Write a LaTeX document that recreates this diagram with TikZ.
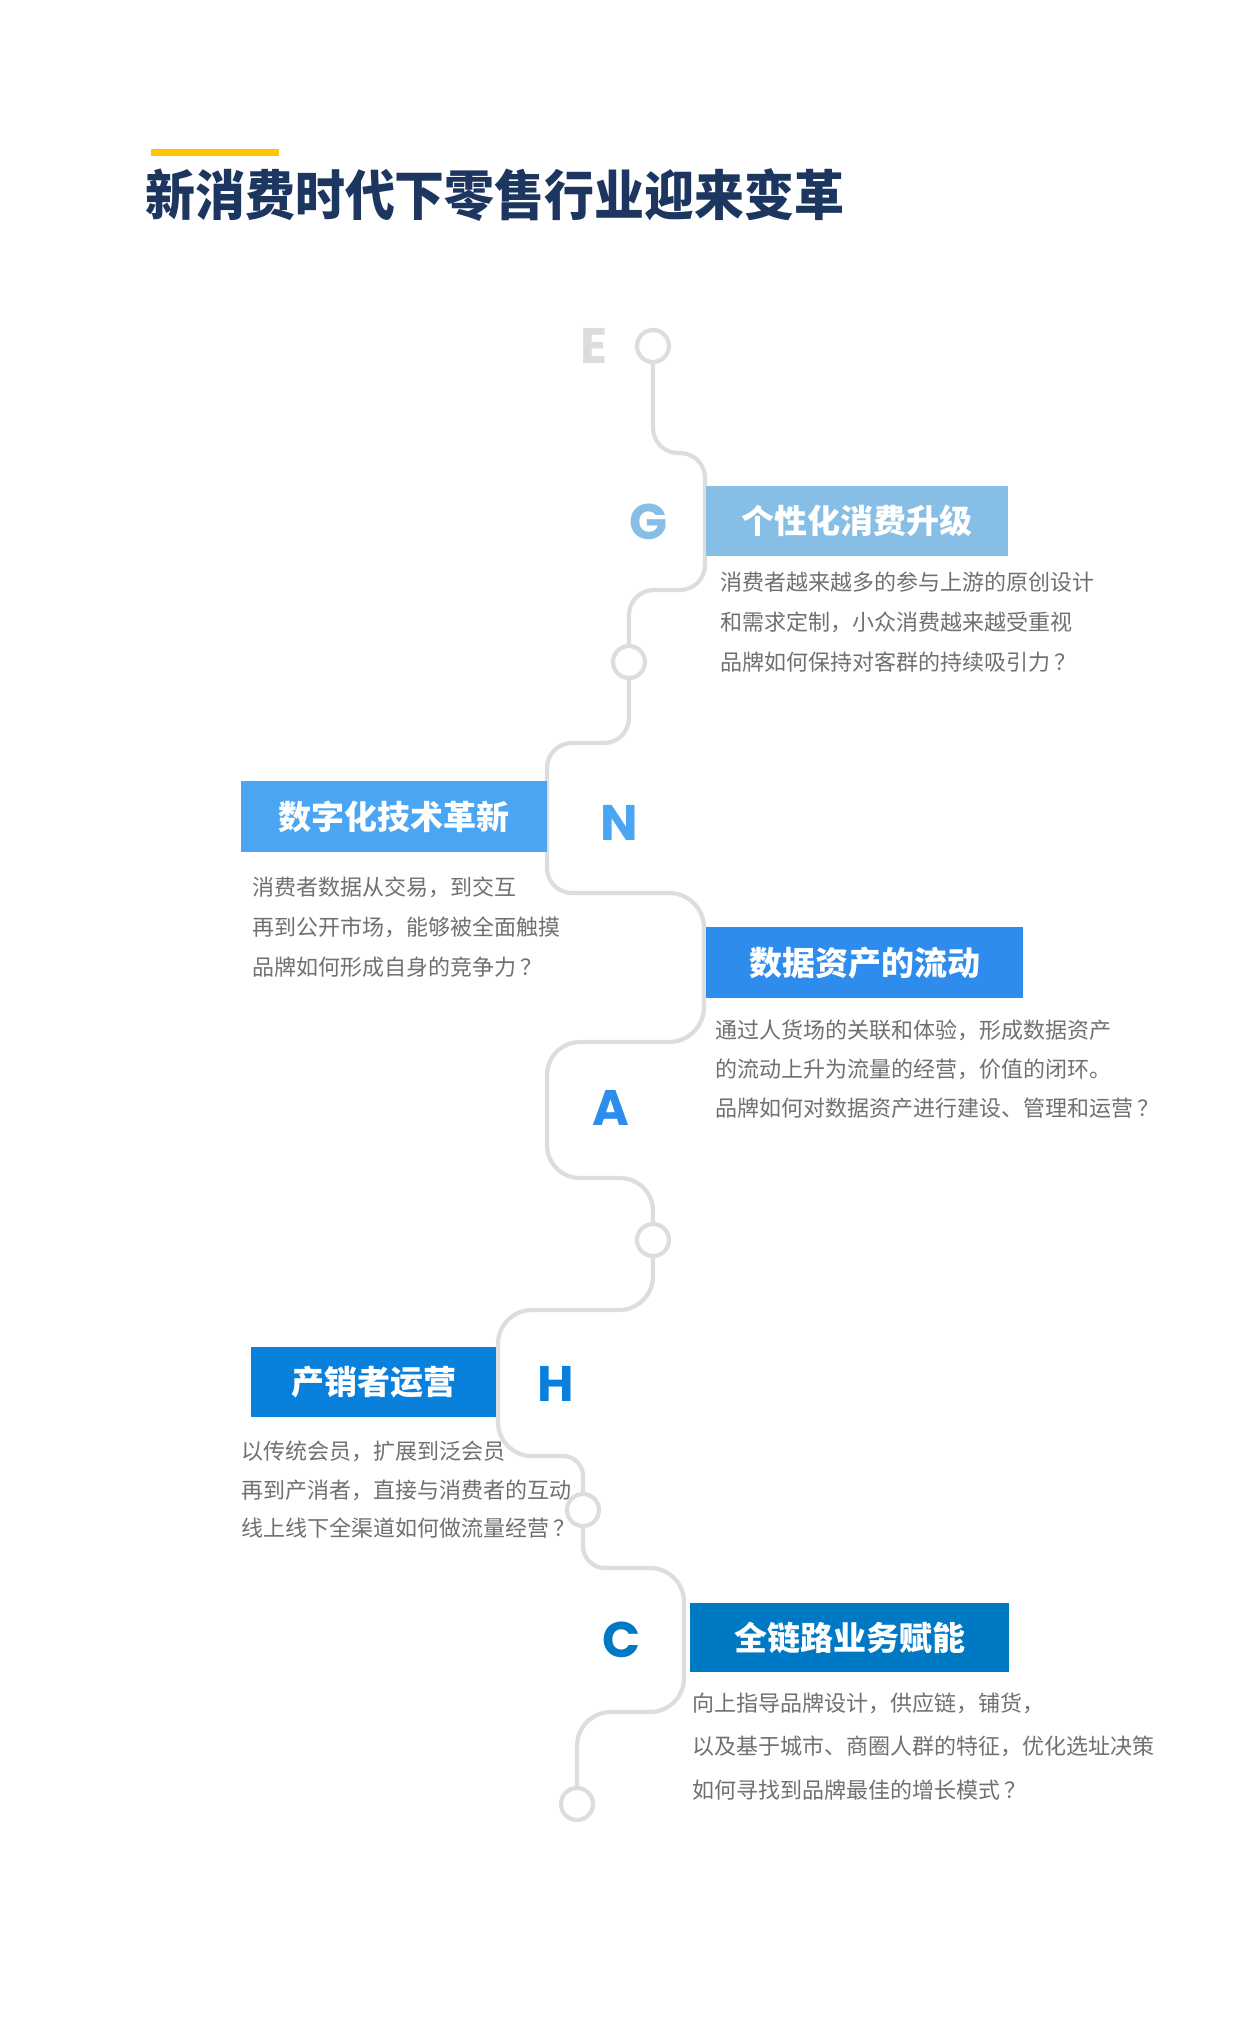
\documentclass[tikz,border=0pt]{standalone}
\usepackage{fontspec}
\newfontfamily\cjk{Noto Sans CJK SC}
\newfontfamily\cjktitle{Noto Sans CJK SC}[FakeStretch=0.925]
\newfontfamily\letterfont{Poppins}
\definecolor{track}{RGB}{220,221,221}
\definecolor{navy}{RGB}{28,54,96}
\definecolor{yellowbar}{RGB}{255,198,0}
\definecolor{desctext}{RGB}{112,112,112}
\definecolor{colE}{RGB}{220,220,220}
\definecolor{colG}{RGB}{135,190,230}
\definecolor{colN}{RGB}{74,166,242}
\definecolor{colA}{RGB}{46,140,236}
\definecolor{colH}{RGB}{10,128,221}
\definecolor{colC}{RGB}{0,121,196}
\newcommand{\qm}{\kern0.2em？}
\tikzset{
  track/.style={draw=track, line width=4.2pt},
  dot/.style={circle, draw=track, line width=4.2pt, fill=white, minimum size=32pt, inner sep=0pt},
  letter/.style={font=\letterfont\bfseries\fontsize{50pt}{50pt}\selectfont, inner sep=0pt},
  headbox/.style={anchor=north west, inner sep=0pt, text=white, font=\cjk\bfseries\fontsize{33pt}{33pt}\selectfont},
  desc/.style={anchor=north west, inner sep=0pt, align=left, text=desctext},
}
\begin{document}
\begin{tikzpicture}[x=1pt,y=-1pt]
\fill[white] (0,0) rectangle (1250,2027);
\useasboundingbox (0,0) rectangle (1250,2027);

% title
\node[fill=yellowbar, minimum width=128pt, minimum height=6.5pt, inner sep=0pt, anchor=north west] (bar) at (151,149) {};
\node[anchor=west, inner sep=0pt, text=navy, font=\cjktitle\bfseries\fontsize{54pt}{54pt}\selectfont] (title) at (145,195) {新消费时代下零售行业迎来变革};

% circles
\node[dot] (e1) at (653,346) {};
\node[dot] (c2) at (629,662) {};
\node[dot] (c3) at (653,1240) {};
\node[dot] (c4) at (583,1510) {};
\node[dot] (c5) at (577,1804) {};

% track
\draw[track, rounded corners=25pt] (e1.south) -- (653,453) -- (705,453) -- (705,590) -- (629,590) -- (c2.north);
\draw[track, rounded corners=25pt] (c2.south) -- (629,743) -- (547,743) -- (547,893) -- (625,893);
\draw[track, rounded corners=35pt] (625,893) -- (704,893) -- (704,1042) -- (625,1042);
\draw[track, rounded corners=33pt] (625,1042) -- (547,1042) -- (547,1178) -- (653,1178) -- (c3.north);
\draw[track, rounded corners=34pt] (c3.south) -- (653,1310) -- (498,1310) -- (498,1456) -- (540,1456);
\draw[track, rounded corners=20pt] (540,1456) -- (583,1456) -- (c4.north);
\draw[track, rounded corners=22pt] (c4.south) -- (583,1568) -- (630,1568);
\draw[track, rounded corners=34pt] (630,1568) -- (684,1568) -- (684,1712) -- (577,1712) -- (c5.north);

% letters
\node[letter, text=colE] (lE) at (594,345.5) {E};
\node[letter, text=colG] (lG) at (649,522) {G};
\node[letter, text=colN] (lN) at (619.5,822.5) {N};
\node[letter, text=colA] (lA) at (610.7,1107.5) {A};
\node[letter, text=colH] (lH) at (556,1384) {H};
\node[letter, text=colC] (lC) at (621.7,1640) {C};

% heading boxes
\node[headbox, fill=colG, minimum width=302pt, minimum height=70pt] (bG) at (706,486) {个性化消费升级};
\node[headbox, fill=colN, minimum width=306pt, minimum height=71pt] (bN) at (241,781) {数字化技术革新};
\node[headbox, fill=colA, minimum width=317pt, minimum height=71pt] (bA) at (706,927) {数据资产的流动};
\node[headbox, fill=colH, minimum width=245pt, minimum height=70pt] (bH) at (251,1347) {产销者运营};
\node[headbox, fill=colC, minimum width=319pt, minimum height=69pt] (bC) at (690,1603) {全链路业务赋能};

% descriptions
\node[desc, font={\cjk\fontsize{22pt}{40pt}\selectfont}] (dG) at (720,571.5) {消费者越来越多的参与上游的原创设计\\和需求定制，小众消费越来越受重视\\品牌如何保持对客群的持续吸引力\qm};
\node[desc, font={\cjk\fontsize{22pt}{40pt}\selectfont}] (dN) at (252,876.5) {消费者数据从交易，到交互\\再到公开市场，能够被全面触摸\\品牌如何形成自身的竞争力\qm};
\node[desc, font={\cjk\fontsize{22pt}{39.3pt}\selectfont}] (dA) at (715,1019.5) {通过人货场的关联和体验，形成数据资产\\的流动上升为流量的经营，价值的闭环。\\品牌如何对数据资产进行建设、管理和运营\qm};
\node[desc, font={\cjk\fontsize{22pt}{38.3pt}\selectfont}] (dH) at (241,1441) {以传统会员，扩展到泛会员\\再到产消者，直接与消费者的互动\\线上线下全渠道如何做流量经营\qm};
\node[desc, font={\cjk\fontsize{22pt}{43.5pt}\selectfont}] (dC) at (692,1692.5) {向上指导品牌设计，供应链，铺货，\\以及基于城市、商圈人群的特征，优化选址决策\\如何寻找到品牌最佳的增长模式\qm};
\end{tikzpicture}
\end{document}
